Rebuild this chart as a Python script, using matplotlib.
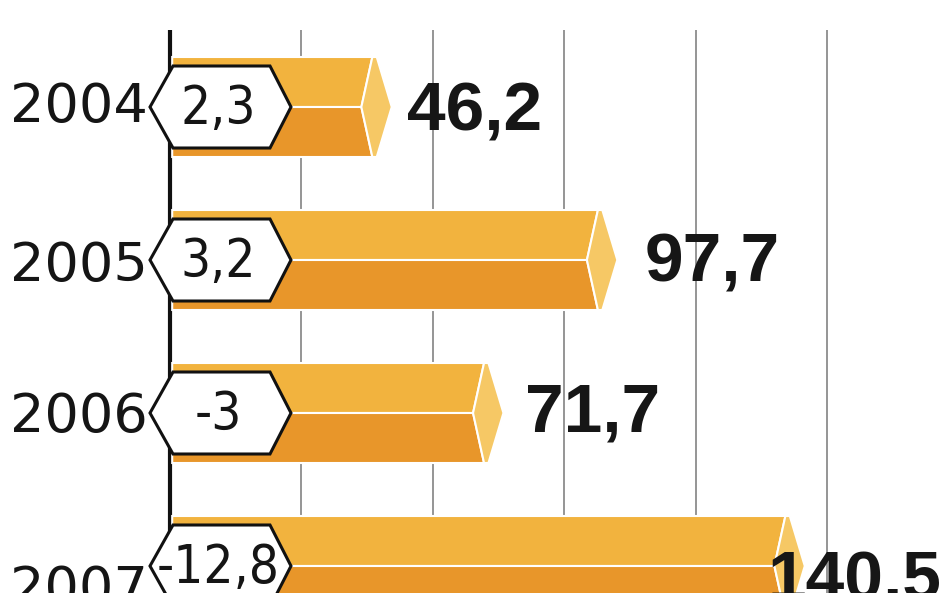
import matplotlib
matplotlib.use('Agg')
import matplotlib.pyplot as plt
from matplotlib import font_manager as fm

# data
years = ['2004', '2005', '2006', '2007']
values = [46.2, 97.7, 71.7, 140.5]
value_labels = ['46,2', '97,7', '71,7', '140,5']
changes = ['2,3', '3,2', '-3', '-12,8']
grid_ticks = [30, 60, 90, 120, 150]

# layout tweaks (pixels -> data units below)
KX = 4.38          # px per value unit
KY = 153.0         # px per row
year_dy = [15, 21, 19, 39]
value_dy = [24, 21, 19, 33]
value_dx = [8, 10.7, 9.3, -4.0]

C_TOP = '#F2B33E'
C_BOT = '#E8962A'
C_CAP = '#F6C865'

names = {f.name for f in fm.fontManager.ttflist}
bold = 'Liberation Sans' if 'Liberation Sans' in names else 'DejaVu Sans'

# a narrow face for the hexagon labels if one is installed
narrow, narrow_stretch, narrow_size = 'DejaVu Sans', 'normal', 34
for f in fm.fontManager.ttflist:
    if f.name == 'Liberation Sans Narrow':
        narrow, narrow_stretch, narrow_size = f.name, 'normal', 38
        break
    if f.name in ('DejaVu Sans', 'Noto Sans', 'Roboto', 'Open Sans') and f.stretch in ('condensed', 'semi-condensed') \
            and f.weight in (400, 'normal', 'regular'):
        narrow, narrow_stretch, narrow_size = f.name, f.stretch, 38

fig = plt.figure(figsize=(9.48, 5.93), dpi=100)
ax = fig.add_axes([0, 0, 1, 1])
ax.set_xlim(-170 / KX, (948 - 170) / KX)
ax.set_ylim((593 - 107) / KY, -107 / KY)
ax.axis('off')

ytop = -77 / KY
ybot = 10
ax.vlines(grid_ticks, ytop, ybot, color='#8c8c8c', lw=1.3, zorder=1)
ax.vlines([0], ytop, ybot, color='#111111', lw=3, zorder=1)

h = 50 / KY        # bar half height
notch = 11 / KX
tip = 15 / KX
hh = 41 / KY       # hexagon half height

for i, v in enumerate(values):
    y = i
    # upper and lower faces of the prism
    ax.fill([0.5, v, v - notch, 0.5], [y - h, y - h, y, y], color=C_TOP, ec='white', lw=1.5, zorder=2)
    ax.fill([0.5, v - notch, v, 0.5], [y, y, y + h, y + h], color=C_BOT, ec='white', lw=1.5, zorder=2)
    # end cap
    ax.fill([v, v + 1, v + 1 + tip, v + 1, v, v - notch],
            [y - h, y - h, y, y + h, y + h, y], color=C_CAP, ec='white', lw=1.5, zorder=3)

    # hexagon label with the change
    hx = [-20 / KX, 3 / KX, 100 / KX, 121 / KX, 100 / KX, 3 / KX]
    hy = [y, y - hh, y - hh, y, y + hh, y + hh]
    ax.fill(hx, hy, color='white', ec='#111111', lw=2.2, zorder=4)
    ax.text(48 / KX, y + 17 / KY, changes[i], ha='center', va='baseline',
            fontsize=narrow_size, family=narrow, fontstretch=narrow_stretch,
            color='#151515', zorder=5)

    ax.text(-22 / KX, y + year_dy[i] / KY, years[i], ha='right', va='baseline',
            fontsize=39, family='DejaVu Sans', color='#151515', zorder=5)

    ax.text(v + value_dx[i], y + value_dy[i] / KY, value_labels[i], ha='left', va='baseline',
            fontsize=50, fontweight='bold', family=bold, color='#161616', zorder=6)

fig.savefig('out.png', dpi=100, facecolor='white')
